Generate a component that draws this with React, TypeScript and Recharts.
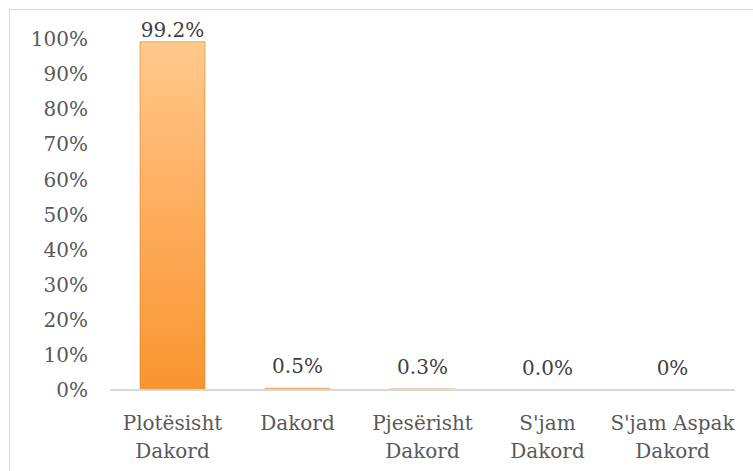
import { Bar, ComposedChart, LabelList, Line, XAxis, YAxis } from "recharts";

const CATEGORIES = [
  "Plotësisht\nDakord",
  "Dakord",
  "Pjesërisht\nDakord",
  "S'jam\nDakord",
  "S'jam Aspak\nDakord",
];
const VALUES = [99.2, 0.5, 0.3, 0.0, 0];
const VALUE_LABELS = ["99.2%", "0.5%", "0.3%", "0.0%", "0%"];
const Y_TICKS = [0, 10, 20, 30, 40, 50, 60, 70, 80, 90, 100];

const data = CATEGORIES.map((name, i) => ({
  name,
  value: VALUES[i],
  label: VALUE_LABELS[i],
}));

const FONT = "'DejaVu Serif', serif";
const AXIS_GREY = "#595959";

function CategoryTick(props: any) {
  const { x, y, payload } = props;
  const lines = String(payload.value).split("\n");
  return (
    <text
      x={x}
      y={y}
      textAnchor="middle"
      fill={AXIS_GREY}
      fontFamily={FONT}
      fontSize={20}
    >
      {lines.map((line, i) => (
        <tspan key={i} x={x} dy={i === 0 ? 40 : 28}>
          {line}
        </tspan>
      ))}
    </text>
  );
}

// labels hang off an invisible line so the zero bars still get one
function ValueLabel(props: any) {
  const { x, y, index } = props;
  // the top label is pushed down to stay inside the chart, like excel does
  const baseline = Math.max(y - 15, 37);
  return (
    <text
      x={x}
      y={baseline}
      textAnchor="middle"
      fill="#404040"
      fontFamily={FONT}
      fontSize={20}
    >
      {VALUE_LABELS[index]}
    </text>
  );
}

export default function App() {
  return (
    <div
      style={{
        position: "absolute",
        left: 0,
        top: 0,
        width: 753,
        height: 471,
        overflow: "hidden",
        background: "#fff",
      }}
    >
      <div
        style={{
          position: "absolute",
          left: 9,
          top: 9,
          width: 800,
          height: 500,
          border: "1px solid #d9d9d9",
        }}
      />
      <div style={{ position: "absolute", left: 0, top: 0 }}>
        <ComposedChart
          width={753}
          height={471}
          data={data}
          margin={{ top: 39, right: 18, bottom: 21, left: 0 }}
        >
          <defs>
            <linearGradient id="orangeBar" x1="0" y1="0" x2="0" y2="1">
              <stop offset="0%" stopColor="#ffca8c" />
              <stop offset="40%" stopColor="#ffb166" />
              <stop offset="100%" stopColor="#f8952f" />
            </linearGradient>
          </defs>
          <XAxis
            dataKey="name"
            height={60}
            interval={0}
            axisLine={{ stroke: "#d9d9d9", strokeWidth: 2 }}
            tickLine={false}
            tickSize={0}
            tickMargin={0}
            tick={<CategoryTick />}
          />
          <YAxis
            width={110}
            domain={[0, 100]}
            ticks={Y_TICKS}
            interval={0}
            axisLine={false}
            tickLine={false}
            tickSize={0}
            tickMargin={22}
            tickFormatter={(v: number) => `${v}%`}
            tick={{ fill: AXIS_GREY, fontFamily: FONT, fontSize: 20 }}
          />
          <Bar
            dataKey="value"
            barSize={65}
            fill="url(#orangeBar)"
            stroke="#d9822f"
            strokeOpacity={0.6}
            strokeWidth={1}
            isAnimationActive={false}
          />
          <Line
            dataKey="value"
            stroke="none"
            dot={false}
            activeDot={false}
            legendType="none"
            isAnimationActive={false}
          >
            <LabelList dataKey="label" content={<ValueLabel />} />
          </Line>
        </ComposedChart>
      </div>
    </div>
  );
}
